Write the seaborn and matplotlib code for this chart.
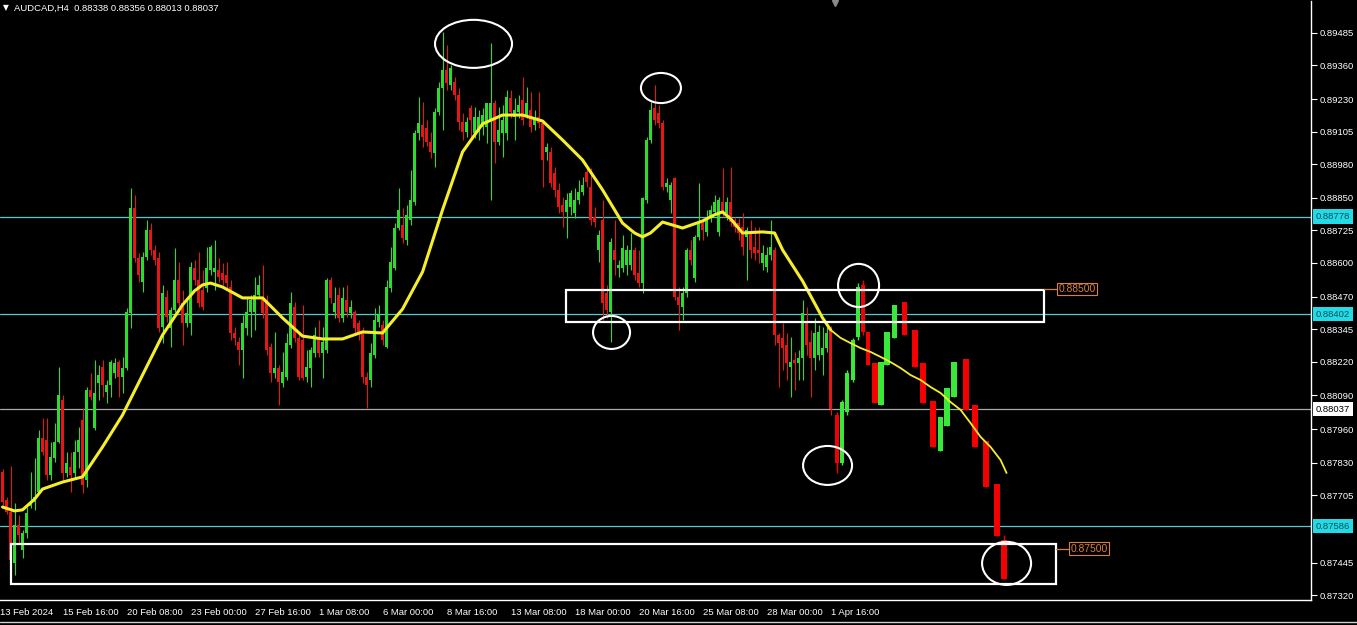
import numpy as np
import pandas as pd
import matplotlib
matplotlib.use("Agg")
import matplotlib.pyplot as plt
import seaborn as sns
from matplotlib.patches import Rectangle, Ellipse
from matplotlib.lines import Line2D
from matplotlib.transforms import blended_transform_factory

# ---------------- data ----------------
symbol = "AUDCAD,H4"
header_ohlc = ["0.88338", "0.88356", "0.88013", "0.88037"]

opens = [
    0.87795, 0.87687, 0.87641, 0.87444, 0.87591, 0.87495, 0.87560, 0.87664, 0.87679, 0.87718,
    0.87926, 0.87918, 0.87783, 0.87849, 0.87910, 0.88072, 0.87791, 0.87814, 0.87791, 0.87872,
    0.87995, 0.87764, 0.88111, 0.87964, 0.88137, 0.88199, 0.88103, 0.88130, 0.88176, 0.88218,
    0.88161, 0.88195, 0.88407, 0.88811, 0.88619, 0.88526, 0.88623, 0.88727, 0.88650, 0.88619,
    0.88353, 0.88469, 0.88349, 0.88419, 0.88534, 0.88445, 0.88368, 0.88368, 0.88580, 0.88534,
    0.88496, 0.88503, 0.88573, 0.88565, 0.88573, 0.88561, 0.88553, 0.88507, 0.88330, 0.88295,
    0.88265, 0.88349, 0.88411, 0.88411, 0.88476, 0.88469, 0.88449, 0.88276, 0.88176, 0.88195,
    0.88137, 0.88161, 0.88284, 0.88430, 0.88311, 0.88303, 0.88161, 0.88195, 0.88253, 0.88315,
    0.88253, 0.88265, 0.88534, 0.88411, 0.88476, 0.88388, 0.88457, 0.88407, 0.88411, 0.88368,
    0.88330, 0.88161, 0.88149, 0.88245, 0.88372, 0.88361, 0.88276, 0.88503, 0.88580, 0.88734,
    0.88746, 0.88688, 0.88765, 0.88834, 0.89100, 0.89131, 0.89119, 0.89065, 0.89023, 0.89181,
    0.89273, 0.89343, 0.89285, 0.89296, 0.89246, 0.89142, 0.89104, 0.89196, 0.89100, 0.89104,
    0.89123, 0.89123, 0.89142, 0.89215, 0.89065, 0.89100, 0.89100, 0.89235, 0.89162, 0.89181,
    0.89227, 0.89169, 0.89189, 0.89131, 0.89162, 0.89138, 0.89027, 0.89027, 0.88946, 0.88881,
    0.88823, 0.88796, 0.88815, 0.88792, 0.88842, 0.88873, 0.88950, 0.88892, 0.88777, 0.88650,
    0.88765, 0.88484, 0.88411, 0.88650, 0.88580, 0.88580, 0.88592, 0.88592, 0.88650, 0.88561,
    0.88522, 0.88842, 0.89073, 0.89196, 0.89177, 0.89138, 0.88892, 0.88842, 0.88927, 0.88469,
    0.88430, 0.88484, 0.88650, 0.88542, 0.88700, 0.88753, 0.88719, 0.88773, 0.88796, 0.88719,
    0.88834, 0.88792, 0.88834, 0.88765, 0.88753, 0.88738, 0.88700, 0.88715, 0.88661, 0.88650,
    0.88599, 0.88584, 0.88630, 0.88650, 0.88322, 0.88311, 0.88284, 0.88199, 0.88226, 0.88214,
    0.88234, 0.88368, 0.88295, 0.88234, 0.88245, 0.88245, 0.88272, 0.88338,
]
closes = [
    0.87679, 0.87641, 0.87456, 0.87591, 0.87552, 0.87560, 0.87637, 0.87679, 0.87699, 0.87926,
    0.87872, 0.87783, 0.87853, 0.87910, 0.88091, 0.87791, 0.87829, 0.87783, 0.87872, 0.87918,
    0.87745, 0.88111, 0.88084, 0.88099, 0.88168, 0.88130, 0.88130, 0.88218, 0.88214, 0.88161,
    0.88195, 0.88411, 0.88811, 0.88619, 0.88553, 0.88623, 0.88727, 0.88650, 0.88611, 0.88349,
    0.88484, 0.88392, 0.88419, 0.88534, 0.88445, 0.88368, 0.88407, 0.88584, 0.88534, 0.88445,
    0.88430, 0.88580, 0.88661, 0.88580, 0.88546, 0.88534, 0.88522, 0.88330, 0.88311, 0.88265,
    0.88368, 0.88411, 0.88457, 0.88476, 0.88515, 0.88407, 0.88265, 0.88176, 0.88195, 0.88141,
    0.88180, 0.88291, 0.88445, 0.88311, 0.88161, 0.88157, 0.88199, 0.88265, 0.88322, 0.88253,
    0.88295, 0.88534, 0.88465, 0.88445, 0.88388, 0.88465, 0.88411, 0.88430, 0.88349, 0.88322,
    0.88161, 0.88130, 0.88253, 0.88380, 0.88399, 0.88303, 0.88507, 0.88603, 0.88734, 0.88804,
    0.88696, 0.88784, 0.88842, 0.89100, 0.89138, 0.89085, 0.89065, 0.89027, 0.89181, 0.89273,
    0.89343, 0.89292, 0.89350, 0.89246, 0.89142, 0.89104, 0.89142, 0.89150, 0.89162, 0.89162,
    0.89169, 0.89215, 0.89215, 0.89065, 0.89112, 0.89150, 0.89239, 0.89181, 0.89189, 0.89208,
    0.89150, 0.89215, 0.89123, 0.89162, 0.89138, 0.88996, 0.89046, 0.88907, 0.88881, 0.88815,
    0.88796, 0.88842, 0.88869, 0.88842, 0.88873, 0.88900, 0.88911, 0.88765, 0.88757, 0.88707,
    0.88445, 0.88419, 0.88680, 0.88611, 0.88592, 0.88657, 0.88650, 0.88650, 0.88553, 0.88522,
    0.88850, 0.89073, 0.89189, 0.89150, 0.89138, 0.88892, 0.88907, 0.88900, 0.88469, 0.88438,
    0.88484, 0.88650, 0.88611, 0.88700, 0.88753, 0.88727, 0.88773, 0.88804, 0.88834, 0.88842,
    0.88792, 0.88834, 0.88757, 0.88738, 0.88715, 0.88661, 0.88727, 0.88650, 0.88638, 0.88638,
    0.88638, 0.88630, 0.88661, 0.88322, 0.88291, 0.88272, 0.88214, 0.88218, 0.88214, 0.88234,
    0.88407, 0.88284, 0.88234, 0.88330, 0.88334, 0.88272, 0.88330, 0.88037,
]
highs = [
    0.87806, 0.87699, 0.87818, 0.87675, 0.87629, 0.87572, 0.87660, 0.87795, 0.87849, 0.87957,
    0.88003, 0.88003, 0.87910, 0.87983, 0.88199, 0.88091, 0.87872, 0.87872, 0.87918, 0.87968,
    0.88041, 0.88122, 0.88176, 0.88226, 0.88207, 0.88226, 0.88149, 0.88226, 0.88234, 0.88226,
    0.88238, 0.88426, 0.88888, 0.88861, 0.88638, 0.88642, 0.88765, 0.88753, 0.88669, 0.88642,
    0.88515, 0.88496, 0.88430, 0.88657, 0.88603, 0.88496, 0.88465, 0.88603, 0.88611, 0.88642,
    0.88573, 0.88661, 0.88669, 0.88688, 0.88619, 0.88599, 0.88603, 0.88534, 0.88353, 0.88315,
    0.88399, 0.88465, 0.88476, 0.88546, 0.88553, 0.88592, 0.88476, 0.88291, 0.88334, 0.88207,
    0.88257, 0.88330, 0.88488, 0.88449, 0.88330, 0.88438, 0.88265, 0.88276, 0.88353, 0.88380,
    0.88353, 0.88542, 0.88546, 0.88507, 0.88507, 0.88507, 0.88515, 0.88457, 0.88419, 0.88380,
    0.88353, 0.88180, 0.88291, 0.88426, 0.88438, 0.88380, 0.88534, 0.88661, 0.88753, 0.88888,
    0.88811, 0.88823, 0.88958, 0.89112, 0.89239, 0.89219, 0.89150, 0.89104, 0.89196, 0.89296,
    0.89489, 0.89439, 0.89362, 0.89316, 0.89273, 0.89177, 0.89162, 0.89208, 0.89200, 0.89189,
    0.89196, 0.89215, 0.89446, 0.89227, 0.89200, 0.89208, 0.89266, 0.89266, 0.89235, 0.89246,
    0.89316, 0.89277, 0.89258, 0.89189, 0.89258, 0.89150, 0.89061, 0.89046, 0.88969, 0.88907,
    0.88854, 0.88869, 0.88881, 0.88888, 0.88919, 0.88931, 0.88977, 0.88965, 0.88815, 0.88727,
    0.88842, 0.88515, 0.88696, 0.88765, 0.88611, 0.88707, 0.88669, 0.88715, 0.88661, 0.88650,
    0.88854, 0.89085, 0.89219, 0.89285, 0.89208, 0.89150, 0.88927, 0.88911, 0.88931, 0.88507,
    0.88507, 0.88657, 0.88688, 0.88707, 0.88907, 0.88773, 0.88804, 0.88823, 0.88861, 0.88854,
    0.88965, 0.88854, 0.88969, 0.88777, 0.88773, 0.88792, 0.88738, 0.88765, 0.88738, 0.88738,
    0.88669, 0.88661, 0.88765, 0.88661, 0.88330, 0.88368, 0.88330, 0.88315, 0.88257, 0.88265,
    0.88457, 0.88430, 0.88342, 0.88388, 0.88361, 0.88353, 0.88353, 0.88356,
]
lows = [
    0.87668, 0.87633, 0.87448, 0.87398, 0.87521, 0.87464, 0.87541, 0.87656, 0.87649, 0.87714,
    0.87860, 0.87764, 0.87764, 0.87833, 0.87906, 0.87764, 0.87776, 0.87718, 0.87772, 0.87810,
    0.87714, 0.87737, 0.88072, 0.87957, 0.88072, 0.88084, 0.88060, 0.88084, 0.88157, 0.88084,
    0.88099, 0.88188, 0.88349, 0.88603, 0.88526, 0.88488, 0.88611, 0.88630, 0.88592, 0.88334,
    0.88291, 0.88372, 0.88276, 0.88411, 0.88434, 0.88284, 0.88353, 0.88322, 0.88515, 0.88430,
    0.88419, 0.88488, 0.88553, 0.88496, 0.88526, 0.88515, 0.88496, 0.88303, 0.88284, 0.88207,
    0.88157, 0.88322, 0.88315, 0.88342, 0.88465, 0.88388, 0.88245, 0.88141, 0.88157, 0.88053,
    0.88122, 0.88149, 0.88272, 0.88295, 0.88149, 0.88149, 0.88141, 0.88122, 0.88238, 0.88238,
    0.88157, 0.88253, 0.88445, 0.88388, 0.88372, 0.88372, 0.88392, 0.88388, 0.88330, 0.88303,
    0.88137, 0.88041, 0.88122, 0.88234, 0.88353, 0.88284, 0.88272, 0.88488, 0.88573, 0.88727,
    0.88676, 0.88669, 0.88746, 0.88823, 0.89073, 0.89046, 0.89050, 0.89004, 0.88969, 0.89169,
    0.89112, 0.89266, 0.89266, 0.89227, 0.89112, 0.89073, 0.89085, 0.89073, 0.89081, 0.89073,
    0.89092, 0.89061, 0.88842, 0.88984, 0.89054, 0.89008, 0.89073, 0.89158, 0.89073, 0.89158,
    0.89131, 0.89158, 0.89104, 0.89112, 0.89119, 0.88892, 0.88996, 0.88892, 0.88854, 0.88792,
    0.88738, 0.88696, 0.88784, 0.88773, 0.88827, 0.88861, 0.88892, 0.88746, 0.88738, 0.88603,
    0.88380, 0.88388, 0.88295, 0.88553, 0.88546, 0.88565, 0.88553, 0.88573, 0.88534, 0.88507,
    0.88484, 0.88830, 0.89061, 0.89131, 0.89119, 0.88881, 0.88873, 0.88792, 0.88457, 0.88342,
    0.88380, 0.88469, 0.88592, 0.88526, 0.88688, 0.88688, 0.88703, 0.88757, 0.88784, 0.88703,
    0.88777, 0.88765, 0.88742, 0.88719, 0.88688, 0.88630, 0.88534, 0.88619, 0.88611, 0.88599,
    0.88573, 0.88565, 0.88611, 0.88284, 0.88122, 0.88188, 0.88149, 0.88084, 0.88111, 0.88149,
    0.88149, 0.88245, 0.88084, 0.88188, 0.88226, 0.88168, 0.88257, 0.88013,
]

# moving average
ma_bars = [0, 3, 5, 8, 10, 15, 20, 25, 30, 35, 40, 45, 48, 50, 52, 55, 60, 65, 70, 75, 80, 85,
           90, 95, 100, 105, 110, 115, 120, 125, 130, 135, 140, 145, 150, 155, 158, 160, 162,
           165, 170, 175, 178, 180, 182, 185, 190, 193, 195, 200, 205, 207]
ma_vals = [0.87660, 0.87645, 0.87649, 0.87690, 0.87729, 0.87756, 0.87776, 0.87891, 0.88014,
           0.88168, 0.88322, 0.88438, 0.88492, 0.88515, 0.88522, 0.88507, 0.88465, 0.88465,
           0.88388, 0.88318, 0.88307, 0.88307, 0.88334, 0.88330, 0.88422, 0.88565, 0.88804,
           0.89027, 0.89135, 0.89169, 0.89169, 0.89146, 0.89073, 0.88996, 0.88881, 0.88753,
           0.88715, 0.88700, 0.88715, 0.88757, 0.88734, 0.88761, 0.88785, 0.88796, 0.88770,
           0.88715, 0.88719, 0.88715, 0.88650, 0.88530, 0.88388, 0.88342]

# hand-drawn projection candles and projected average
fc_bars = [208.6, 209.9, 211.1, 212.6, 213.9, 215.1, 216.4, 218.1, 219.6, 221.1, 222.9, 225.4,
           228.1, 230.1, 232.6, 234.4, 236.1, 237.9, 240.9, 243.1, 245.9, 248.6, 250.4]
fc_open = [0.88014, 0.87829, 0.88026, 0.88149, 0.88315, 0.88515, 0.88334, 0.88214, 0.88053,
           0.88207, 0.88311, 0.88449, 0.88341, 0.88214, 0.88068, 0.87876, 0.87972, 0.88084,
           0.88230, 0.88053, 0.87914, 0.87749, 0.87533]
fc_close = [0.87829, 0.88064, 0.88176, 0.88303, 0.88507, 0.88334, 0.88207, 0.88060, 0.88218,
            0.88334, 0.88438, 0.88322, 0.88199, 0.88060, 0.87891, 0.88006, 0.88118, 0.88218,
            0.88034, 0.87891, 0.87737, 0.87548, 0.87383]
fc_high = [0.88026, 0.88072, 0.88187, 0.88311, 0.88522, 0.88534, 0.88334, 0.88214, 0.88218,
           0.88334, 0.88438, 0.88449, 0.88341, 0.88214, 0.88068, 0.88006, 0.88118, 0.88218,
           0.88230, 0.88053, 0.87914, 0.87749, 0.87552]
fc_low = [0.87791, 0.87822, 0.88014, 0.88141, 0.88303, 0.88322, 0.88207, 0.88060, 0.88053,
          0.88207, 0.88311, 0.88322, 0.88199, 0.88060, 0.87891, 0.87876, 0.87972, 0.88084,
          0.88034, 0.87891, 0.87737, 0.87548, 0.87383]
fma_bars = [207, 209.5, 212, 214.5, 217, 219.5, 222, 224.5, 227, 229.5, 232, 234.5, 237,
            239.5, 242, 244.5, 247, 249.5, 251]
fma_vals = [0.88342, 0.88311, 0.88291, 0.88272, 0.88257, 0.88238, 0.88218, 0.88195, 0.88168,
            0.88149, 0.88122, 0.88099, 0.88064, 0.88034, 0.87983, 0.87930, 0.87891, 0.87841,
            0.87791]

level_lines = [0.88778, 0.88402, 0.87586]
bid_price = 0.88037

zone_left = [140.9, 2.1]
zone_right = [260.4, 263.4]
zone_top = [0.88495, 0.87518]
zone_bottom = [0.88372, 0.87364]
zone_price = [0.88500, 0.87500]
zone_text = ["0.88500", "0.87500"]

ell_bar = [117.75, 164.6, 152.25, 214.0, 206.25, 251.0]
ell_price = [0.89443, 0.89273, 0.88332, 0.88513, 0.87820, 0.87443]
ell_w = [19.25, 10.0, 9.25, 10.25, 12.25, 12.25]
ell_h = [0.00185, 0.00116, 0.00127, 0.00166, 0.00150, 0.00166]

xtick_bars = [-0.6, 15, 31, 47, 63, 79, 95, 111, 127, 143, 159, 175, 191, 207]
xtick_labels = ["13 Feb 2024", "15 Feb 16:00", "20 Feb 08:00", "23 Feb 00:00", "27 Feb 16:00",
                "1 Mar 08:00", "6 Mar 00:00", "8 Mar 16:00", "13 Mar 08:00", "18 Mar 00:00",
                "20 Mar 16:00", "25 Mar 08:00", "28 Mar 00:00", "1 Apr 16:00"]
ytick_vals = [0.89485, 0.89360, 0.89230, 0.89105, 0.88980, 0.88850, 0.88725, 0.88600, 0.88470,
              0.88345, 0.88220, 0.88090, 0.87960, 0.87830, 0.87705, 0.87445, 0.87320]

# ---------------- style ----------------
sns.set_theme(style="dark", rc={
    "axes.facecolor": "black", "figure.facecolor": "black",
    "axes.edgecolor": "white", "text.color": "white",
    "xtick.color": "white", "ytick.color": "white",
    "axes.grid": False,
})
plt.rcParams["font.family"] = ["Liberation Sans", "DejaVu Sans"]

FS = 6.8
UP, DN = "#2bdc2b", "#e41616"
FUP, FDN = "#3ae83a", "#f40000"
CYAN_LINE, CYAN_BOX = "#56c8d0", "#22dbe6"
ORANGE = "#d98040"

W, H = 1357, 625
fig = plt.figure(figsize=(W / 100, H / 100), dpi=100)
ax = fig.add_axes([0, 1 - 600 / H, 1311 / W, 599 / H])
ax.set_facecolor("black")

# reference lines
for lv in level_lines:
    ax.axhline(lv, color=CYAN_LINE, lw=0.9, zorder=1)
ax.axhline(bid_price, color="#a8a8a8", lw=0.9, zorder=1)

# real candles
df = pd.DataFrame({"bar": np.arange(len(opens)), "open": opens, "high": highs,
                   "low": lows, "close": closes})
bull = df["close"] >= df["open"]
cols = np.where(bull, UP, DN)
ax.vlines(df["bar"], df["low"], df["high"], colors=cols, lw=0.8, zorder=3)
body_lo = np.minimum(df["open"], df["close"])
body_h = np.maximum((df["close"] - df["open"]).abs(), 0.00003)
ax.bar(df["bar"], body_h, bottom=body_lo, width=0.8, color=cols, linewidth=0, zorder=4)

# projection candles
fc = pd.DataFrame({"bar": fc_bars, "open": fc_open, "close": fc_close,
                   "high": fc_high, "low": fc_low})
fbull = fc["close"] >= fc["open"]
fcols = np.where(fbull, FUP, FDN)
fw = np.array([1.0] * 7 + [1.3] * 10 + [1.6] * 6)
ax.vlines(fc["bar"], fc["low"], fc["high"], colors=fcols, lw=1.0, zorder=3)
ax.bar(fc["bar"], (fc["close"] - fc["open"]).abs(), bottom=np.minimum(fc["open"], fc["close"]),
       width=fw, color=fcols, linewidth=0, zorder=4)

# moving averages
sns.lineplot(x=ma_bars, y=ma_vals, ax=ax, color="#f5ee2a", lw=2.2, zorder=5)
sns.lineplot(x=fma_bars, y=fma_vals, ax=ax, color="#f5ee2a", lw=1.3, zorder=5)

# zones
for l, r, t, b, p, txt in zip(zone_left, zone_right, zone_top, zone_bottom, zone_price, zone_text):
    ax.add_patch(Rectangle((l, b), r - l, t - b, fill=False, edgecolor="white", lw=1.6, zorder=6))
    ax.plot([r, r + 3.5], [p, p], color=ORANGE, lw=0.9, zorder=6)
    ax.text(r + 3.6, p, txt, color=ORANGE, fontsize=FS + 0.6, va="center", ha="left", zorder=7,
            bbox=dict(boxstyle="square,pad=0.12", fc="black", ec=ORANGE, lw=0.8))

# ellipses
for ex, ey, ew, eh in zip(ell_bar, ell_price, ell_w, ell_h):
    ax.add_patch(Ellipse((ex, ey), ew, eh, fill=False, edgecolor="white", lw=1.5, zorder=7))

# axes
ax.set_xlim(-0.625, 327.1)
ax.set_ylim(0.87302, 0.89608)
ax.set_xlabel("")
ax.set_ylabel("")
for s in ["top", "left"]:
    ax.spines[s].set_visible(False)
for s in ["right", "bottom"]:
    ax.spines[s].set_visible(True)
    ax.spines[s].set_color("white")
    ax.spines[s].set_linewidth(1.0)

ax.yaxis.tick_right()
ax.set_yticks(ytick_vals)
ax.set_yticklabels([f"{v:.5f}" for v in ytick_vals])
ax.tick_params(axis="y", colors="white", labelsize=FS, length=4, width=0.8, pad=2,
               direction="out", right=True, left=False, labelright=True, labelleft=False)
ax.set_xticks(xtick_bars)
ax.set_xticklabels(xtick_labels, ha="left")
ax.tick_params(axis="x", colors="white", labelsize=FS, length=4, width=0.8, pad=1.5,
               direction="out")

# price tags on the right axis
tr = blended_transform_factory(fig.transFigure, ax.transData)
for lv in level_lines:
    ax.text(1316 / W, lv, f"{lv:.5f}", transform=tr, fontsize=FS, color="#0d4d57",
            va="center", ha="left", clip_on=False, zorder=10,
            bbox=dict(boxstyle="square,pad=0.28", fc=CYAN_BOX, ec="none"))
ax.text(1316 / W, bid_price, f"{bid_price:.5f}", transform=tr, fontsize=FS, color="black",
        va="center", ha="left", clip_on=False, zorder=10,
        bbox=dict(boxstyle="square,pad=0.28", fc="white", ec="none"))

# chart-shift marker
ax.plot([len(opens)], [0.89600], marker="v", color="#8a8a8a", ms=5, clip_on=False, zorder=8)

# header
fig.text(3 / W, 1 - 8 / H, "\u25bc", color="white", fontsize=5.5, va="center", ha="left",
         family=["DejaVu Sans"])
fig.text(14 / W, 1 - 8 / H, symbol + "  " + " ".join(header_ohlc), color="white",
         fontsize=FS, va="center", ha="left")

# window bottom edge
fig.add_artist(Line2D([0, 1], [1 - 622 / H, 1 - 622 / H], color="#d0d0d0", lw=1.0))

fig.savefig("out.png", dpi=100, facecolor="black")
